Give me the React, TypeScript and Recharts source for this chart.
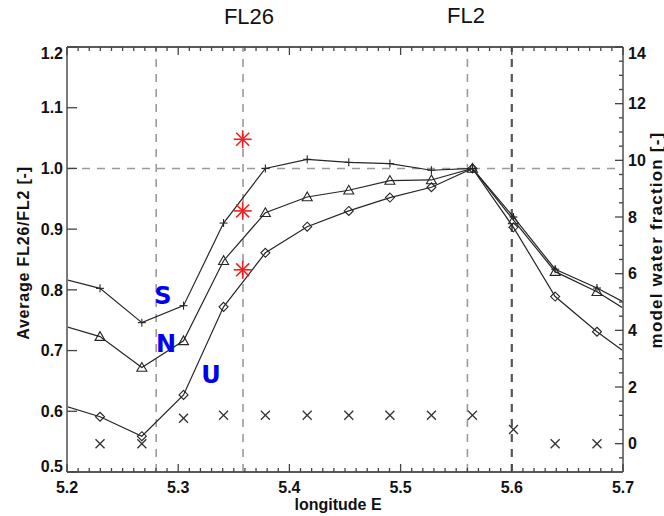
import React from 'react';
import { ComposedChart, Line, Scatter, XAxis, YAxis, ReferenceLine } from 'recharts';

// ---------- data ----------
const longitudes = [5.1922, 5.2297, 5.2673, 5.3048, 5.3408, 5.3784, 5.416, 5.4534, 5.4904, 5.5277, 5.5646, 5.6015, 5.639, 5.6766, 5.714];
const seriesS = [0.82, 0.8025, 0.746, 0.774, 0.91, 1.0, 1.015, 1.01, 1.008, 0.997, 1.0, 0.92, 0.834, 0.803, 0.767];
const seriesN = [0.743, 0.723, 0.672, 0.716, 0.848, 0.927, 0.953, 0.964, 0.98, 0.981, 1.0, 0.915, 0.83, 0.797, 0.754];
const seriesU = [0.612, 0.591, 0.559, 0.627, 0.772, 0.861, 0.904, 0.93, 0.952, 0.969, 1.0, 0.903, 0.789, 0.731, 0.681];
const waterLongitudes = [5.2297, 5.2673, 5.3048, 5.3408, 5.3784, 5.416, 5.4534, 5.4904, 5.5277, 5.5646, 5.6015, 5.639, 5.6766];
const waterFraction = [0, 0, 0.9, 1.0, 1.0, 1.0, 1.0, 1.0, 1.0, 1.0, 0.5, 0, 0];
const starLongitudes = [5.358, 5.358, 5.358];
const starValues = [1.048, 0.93, 0.833];
const dashedLongitudes = [5.2802, 5.3583, 5.5601];
const boldDashedLongitude = 5.6;
const dashedRatio = 1.0;
const xDomain = [5.2, 5.7];
const leftDomain = [0.5, 1.2];
const rightDomain = [-1, 14];
const xMajorTicks = [5.2, 5.3, 5.4, 5.5, 5.6, 5.7];
const leftTicks = [0.5, 0.6, 0.7, 0.8, 0.9, 1.0, 1.1, 1.2];
const rightMajorTicks = [0, 2, 4, 6, 8, 10, 12, 14];
const seriesNames = ['S', 'N', 'U'];
const topLabels = ['FL26', 'FL2'];

// minor tick positions (axis decoration)
const xAllTicks: number[] = [];
for (let i = 0; i <= 50; i++) xAllTicks.push(Math.round((5.2 + i * 0.01) * 100) / 100);
const rightAllTicks: number[] = [];
for (let i = -1; i <= 28; i++) rightAllTicks.push(i * 0.5);

const toPoints = (xs: number[], ys: number[]) => xs.map((x, i) => ({ x, y: ys[i] }));
const dataS = toPoints(longitudes, seriesS);
const dataN = toPoints(longitudes, seriesN);
const dataU = toPoints(longitudes, seriesU);
const dataWater = toPoints(waterLongitudes, waterFraction);
const dataStars = toPoints(starLongitudes, starValues);

// ---------- layout / style ----------
const W = 664;
const H = 516;
const PLOT_TOP = 47;
const PLOT_BOTTOM = 472;
const PLOT_LEFT = 67;
const PLOT_RIGHT = 623;
const AX_W = 40;
const FONT = '"Liberation Sans", Arial, Helvetica, sans-serif';
const TICK_COLOR = '#444';
const LINE_COLOR = '#262626';

const isMajorX = (v: number) => xMajorTicks.some((m) => Math.abs(m - v) < 1e-6);

const BottomTick = (props: any) => {
  const { x, y, payload } = props;
  const v = payload.value;
  const major = isMajorX(v);
  return (
    <g>
      <line x1={x} x2={x} y1={y} y2={y - (major ? 8 : 4)} stroke={TICK_COLOR} strokeWidth={1.3} />
      {major && (
        <text x={x} y={y + 21} textAnchor="middle" fontFamily={FONT} fontWeight="bold" fontSize={16} fill="#111">
          {v.toFixed(1)}
        </text>
      )}
    </g>
  );
};

const TopTick = (props: any) => {
  const { x, y, payload } = props;
  const major = isMajorX(payload.value);
  return <line x1={x} x2={x} y1={y} y2={y + (major ? 8 : 4)} stroke={TICK_COLOR} strokeWidth={1.3} />;
};

const LeftTick = (props: any) => {
  const { x, y, payload } = props;
  const ty = Math.min(Math.max(y, PLOT_TOP + 6), PLOT_BOTTOM - 6);
  return (
    <g>
      <line x1={x} x2={x + 10} y1={y} y2={y} stroke={TICK_COLOR} strokeWidth={1.3} />
      <text x={x - 4} y={ty} dy="0.36em" textAnchor="end" fontFamily={FONT} fontWeight="bold" fontSize={16} fill="#111">
        {payload.value.toFixed(1)}
      </text>
    </g>
  );
};

const RightTick = (props: any) => {
  const { x, y, payload } = props;
  const v = payload.value;
  const major = rightMajorTicks.includes(v);
  const ty = Math.min(Math.max(y, PLOT_TOP + 6), PLOT_BOTTOM - 6);
  return (
    <g>
      <line x1={x} x2={x - (major ? 8 : 4)} y1={y} y2={y} stroke={TICK_COLOR} strokeWidth={1.3} />
      {major && (
        <text x={x + 5} y={ty} dy="0.36em" textAnchor="start" fontFamily={FONT} fontWeight="bold" fontSize={16} fill="#111">
          {String(v)}
        </text>
      )}
    </g>
  );
};

const PlusDot = (p: any) => {
  const { cx, cy, index } = p;
  if (cx == null || cy == null) return <g key={`p${index}`} />;
  const r = 4;
  return (
    <g key={`p${index}`}>
      <line x1={cx - r} x2={cx + r} y1={cy} y2={cy} stroke={LINE_COLOR} strokeWidth={1.1} />
      <line x1={cx} x2={cx} y1={cy - r} y2={cy + r} stroke={LINE_COLOR} strokeWidth={1.1} />
    </g>
  );
};

const TriangleDot = (p: any) => {
  const { cx, cy, index } = p;
  if (cx == null || cy == null) return <g key={`t${index}`} />;
  const r = 5;
  return (
    <polygon
      key={`t${index}`}
      points={`${cx},${cy - r} ${cx - r},${cy + r * 0.75} ${cx + r},${cy + r * 0.75}`}
      fill="none"
      stroke={LINE_COLOR}
      strokeWidth={1.1}
    />
  );
};

const DiamondDot = (p: any) => {
  const { cx, cy, index } = p;
  if (cx == null || cy == null) return <g key={`d${index}`} />;
  const r = 4.5;
  return (
    <polygon
      key={`d${index}`}
      points={`${cx},${cy - r} ${cx + r},${cy} ${cx},${cy + r} ${cx - r},${cy}`}
      fill="none"
      stroke={LINE_COLOR}
      strokeWidth={1.1}
    />
  );
};

const CrossShape = (p: any) => {
  const { cx, cy } = p;
  const r = 4.5;
  return (
    <g>
      <line x1={cx - r} x2={cx + r} y1={cy - r} y2={cy + r} stroke="#333" strokeWidth={1.3} />
      <line x1={cx - r} x2={cx + r} y1={cy + r} y2={cy - r} stroke="#333" strokeWidth={1.3} />
    </g>
  );
};

const StarShape = (p: any) => {
  const { cx, cy } = p;
  const r = 9;
  const d = r * 0.72;
  const c = '#f02020';
  return (
    <g>
      <line x1={cx - r} x2={cx + r} y1={cy} y2={cy} stroke={c} strokeWidth={1.6} />
      <line x1={cx} x2={cx} y1={cy - r} y2={cy + r} stroke={c} strokeWidth={1.6} />
      <line x1={cx - d} x2={cx + d} y1={cy - d} y2={cy + d} stroke={c} strokeWidth={1.6} />
      <line x1={cx - d} x2={cx + d} y1={cy + d} y2={cy - d} stroke={c} strokeWidth={1.6} />
    </g>
  );
};

const textBase: React.CSSProperties = {
  position: 'absolute',
  whiteSpace: 'nowrap',
  fontFamily: FONT,
  lineHeight: 1,
  transform: 'translate(-50%, -50%)',
};

export default function App() {
  return (
    <div style={{ position: 'absolute', left: 0, top: 0, width: W, height: H, background: '#fff' }}>
      <ComposedChart
        width={W}
        height={H}
        margin={{ top: PLOT_TOP - AX_W, right: W - PLOT_RIGHT - AX_W, bottom: H - PLOT_BOTTOM - AX_W, left: PLOT_LEFT - AX_W }}
      >
        <XAxis
          xAxisId="main"
          dataKey="x"
          type="number"
          domain={xDomain}
          allowDataOverflow
          orientation="bottom"
          height={AX_W}
          ticks={xAllTicks}
          interval={0}
          tickSize={0}
          tickMargin={0}
          tickLine={false}
          tick={BottomTick}
          axisLine={{ stroke: '#5a5a5a', strokeWidth: 2 }}
        />
        <XAxis
          xAxisId="top"
          dataKey="x"
          type="number"
          domain={xDomain}
          allowDataOverflow
          orientation="top"
          height={AX_W}
          ticks={xAllTicks}
          interval={0}
          tickSize={0}
          tickMargin={0}
          tickLine={false}
          tick={TopTick}
          axisLine={{ stroke: '#5a5a5a', strokeWidth: 2 }}
        />
        <YAxis
          yAxisId="left"
          dataKey="y"
          type="number"
          domain={leftDomain}
          allowDataOverflow
          orientation="left"
          width={AX_W}
          ticks={leftTicks}
          interval={0}
          tickSize={0}
          tickMargin={0}
          tickLine={false}
          tick={LeftTick}
          axisLine={{ stroke: '#7a7a7a', strokeWidth: 2 }}
        />
        <YAxis
          yAxisId="right"
          dataKey="y"
          type="number"
          domain={rightDomain}
          allowDataOverflow
          orientation="right"
          width={AX_W}
          ticks={rightAllTicks}
          interval={0}
          tickSize={0}
          tickMargin={0}
          tickLine={false}
          tick={RightTick}
          axisLine={{ stroke: '#7a7a7a', strokeWidth: 2 }}
        />
        {dashedLongitudes.map((v) => (
          <ReferenceLine key={v} xAxisId="main" yAxisId="left" x={v} stroke="#9a9a9a" strokeWidth={1.6} strokeDasharray="8 7" />
        ))}
        <ReferenceLine xAxisId="main" yAxisId="left" x={boldDashedLongitude} stroke="#555" strokeWidth={2.2} strokeDasharray="8 7" />
        <ReferenceLine xAxisId="main" yAxisId="left" y={dashedRatio} stroke="#9a9a9a" strokeWidth={1.6} strokeDasharray="8 7" />
        <Line
          xAxisId="main"
          yAxisId="left"
          data={dataS}
          dataKey="y"
          stroke={LINE_COLOR}
          strokeWidth={1.2}
          dot={PlusDot}
          activeDot={false}
          isAnimationActive={false}
        />
        <Line
          xAxisId="main"
          yAxisId="left"
          data={dataN}
          dataKey="y"
          stroke={LINE_COLOR}
          strokeWidth={1.2}
          dot={TriangleDot}
          activeDot={false}
          isAnimationActive={false}
        />
        <Line
          xAxisId="main"
          yAxisId="left"
          data={dataU}
          dataKey="y"
          stroke={LINE_COLOR}
          strokeWidth={1.2}
          dot={DiamondDot}
          activeDot={false}
          isAnimationActive={false}
        />
        <Scatter xAxisId="main" yAxisId="right" data={dataWater} dataKey="y" shape={CrossShape} isAnimationActive={false} />
        <Scatter xAxisId="main" yAxisId="left" data={dataStars} dataKey="y" shape={StarShape} isAnimationActive={false} />
      </ComposedChart>

      {/* top annotations */}
      <div style={{ ...textBase, left: 249, top: 17, fontSize: 22, color: '#111' }}>{topLabels[0]}</div>
      <div style={{ ...textBase, left: 466, top: 16, fontSize: 22, color: '#111' }}>{topLabels[1]}</div>

      {/* series labels */}
      <div style={{ ...textBase, left: 163, top: 296, fontSize: 24, fontWeight: 'bold', color: '#0000f0', fontFamily: '"DejaVu Sans", sans-serif' }}>{seriesNames[0]}</div>
      <div style={{ ...textBase, left: 166, top: 344, fontSize: 24, fontWeight: 'bold', color: '#0000f0', fontFamily: '"DejaVu Sans", sans-serif' }}>{seriesNames[1]}</div>
      <div style={{ ...textBase, left: 211, top: 375, fontSize: 24, fontWeight: 'bold', color: '#0000f0', fontFamily: '"DejaVu Sans", sans-serif' }}>{seriesNames[2]}</div>

      {/* axis titles */}
      <div style={{ ...textBase, left: 24, top: 253, fontSize: 16, fontWeight: 'bold', color: '#111', letterSpacing: 0.8, transform: 'translate(-50%, -50%) rotate(-90deg)' }}>
        Average FL26/FL2 [-]
      </div>
      <div style={{ ...textBase, left: 656, top: 240, fontSize: 17, fontWeight: 'bold', color: '#111', letterSpacing: 1.2, transform: 'translate(-50%, -50%) rotate(-90deg)' }}>
        model water fraction [-]
      </div>
      <div style={{ ...textBase, left: 338, top: 505, fontSize: 16, fontWeight: 'bold', color: '#111' }}>longitude E</div>
    </div>
  );
}
